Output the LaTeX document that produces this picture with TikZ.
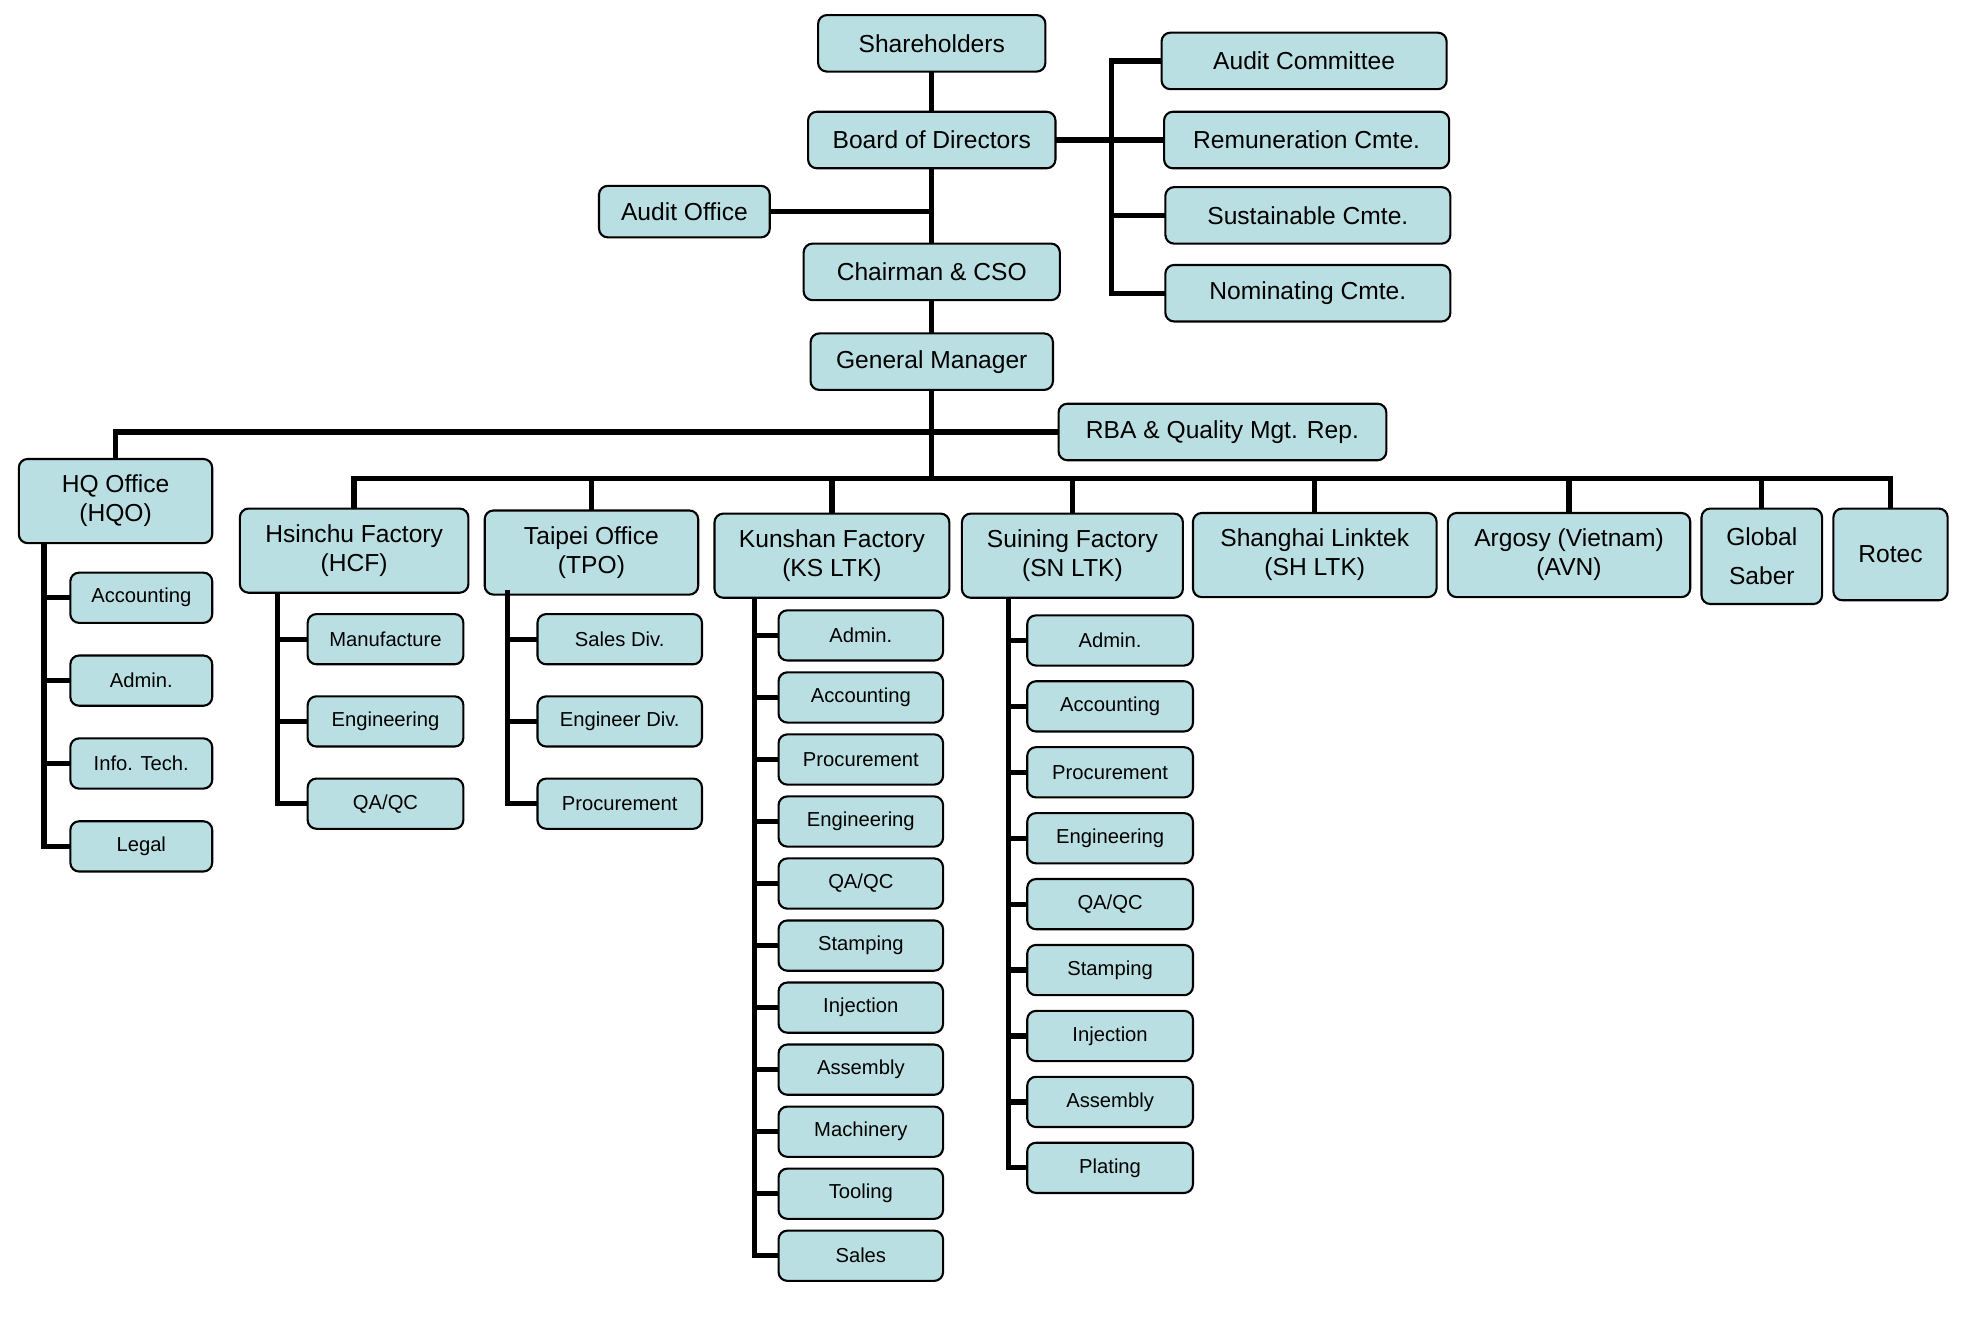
\documentclass[tikz,border=0pt]{standalone}
\usepackage{fontspec}
\setmainfont{Liberation Sans}
\usetikzlibrary{positioning}
\definecolor{boxfill}{RGB}{186,223,226}
\newlength{\unitpx}
\setlength{\unitpx}{0.025114cm}

\begin{document}
\begin{tikzpicture}[x=\unitpx,y=\unitpx,
    box/.style={draw,line width=1.2pt,rounded corners=5pt,fill=boxfill,
                align=center,inner sep=0pt,outer sep=0pt},
    headbox/.style={box,minimum width=#1\unitpx,minimum height=45\unitpx,
                font=\fontsize{14}{16.5}\selectfont},
    unitbox/.style={box,minimum width=#1\unitpx,minimum height=67\unitpx,
                font=\fontsize{14}{16.5}\selectfont},
    subbox/.style={box,minimum width=#1\unitpx,minimum height=40\unitpx,
                font=\fontsize{11.5}{13}\selectfont},
    link/.style={line width=3pt}]
    \useasboundingbox (0,0) rectangle (1568,-1062);

    % governance
    \node[headbox=181] (sh)  at (742,-34.5)  {Shareholders};
    \node[headbox=197] (bod) at (742,-111.5) {Board of Directors};
    \node[headbox=136,minimum height=41\unitpx] (ao) at (545,-168.5) {Audit Office};
    \node[headbox=204] (cso) at (742,-216.5) {Chairman \& CSO};
    \node[headbox=193] (gm)  at (742,-288)   {General Manager};
    \node[headbox=261] (rba) at (973.5,-344) {RBA \& Quality Mgt. Rep.};
    \node[headbox=227] (ac)  at (1038.5,-48.5) {Audit Committee};
    \node[headbox=227] (rem) at (1040.5,-111.5) {Remuneration Cmte.};
    \node[headbox=227] (sus) at (1041.5,-171.5) {Sustainable Cmte.};
    \node[headbox=227] (nom) at (1041.5,-233.5) {Nominating Cmte.};
    \coordinate (csp) at (885,-48.5);
    \coordinate (bus) at (742,-381);

    % business units
    \node[unitbox=154] (hq)  at (92,-399)     {HQ Office\\(HQO)};
    \node[unitbox=182] (hcf) at (282,-438.5)  {Hsinchu Factory\\(HCF)};
    \node[unitbox=170] (tpo) at (471,-440)    {Taipei Office\\(TPO)};
    \node[unitbox=187] (ks)  at (662.5,-442.5) {Kunshan Factory\\(KS LTK)};
    \node[unitbox=176] (sn)  at (854,-442.5)  {Suining Factory\\(SN LTK)};
    \node[unitbox=194] (shl) at (1047,-442)   {Shanghai Linktek\\(SH LTK)};
    \node[unitbox=193] (avn) at (1249.5,-442) {Argosy (Vietnam)\\(AVN)};
    \node[unitbox=96,minimum height=76\unitpx] (gs) at (1403,-443) {Global\\[6pt]Saber};
    \node[unitbox=91,minimum height=73\unitpx] (rot) at (1505.5,-441.5) {Rotec};

    % HQ departments
    \node[subbox=113] (hq1) at (112.5,-476) {Accounting};
    \node[subbox=113,below=26 of hq1] (hq2) {Admin.};
    \node[subbox=113,below=26 of hq2] (hq3) {Info. Tech.};
    \node[subbox=113,below=26 of hq3] (hq4) {Legal};
    \coordinate (hqsp) at (35,-432);

    % HCF departments
    \node[subbox=124] (hcf1) at (307,-509) {Manufacture};
    \node[subbox=124,below=25.5 of hcf1] (hcf2) {Engineering};
    \node[subbox=124,below=25.5 of hcf2] (hcf3) {QA/QC};
    \coordinate (hcfsp) at (221,-472);

    % TPO departments
    \node[subbox=131] (tpo1) at (493.5,-509) {Sales Div.};
    \node[subbox=131,below=25.5 of tpo1] (tpo2) {Engineer Div.};
    \node[subbox=131,below=25.5 of tpo2] (tpo3) {Procurement};
    \coordinate (tposp) at (404,-470);

    % KS departments
    \node[subbox=131] (ks1) at (685.5,-506) {Admin.};
    \node[subbox=131,below=9.4 of ks1] (ks2) {Accounting};
    \node[subbox=131,below=9.4 of ks2] (ks3) {Procurement};
    \node[subbox=131,below=9.4 of ks3] (ks4) {Engineering};
    \node[subbox=131,below=9.4 of ks4] (ks5) {QA/QC};
    \node[subbox=131,below=9.4 of ks5] (ks6) {Stamping};
    \node[subbox=131,below=9.4 of ks6] (ks7) {Injection};
    \node[subbox=131,below=9.4 of ks7] (ks8) {Assembly};
    \node[subbox=131,below=9.4 of ks8] (ks9) {Machinery};
    \node[subbox=131,below=9.4 of ks9] (ks10) {Tooling};
    \node[subbox=131,below=9.4 of ks10] (ks11) {Sales};
    \coordinate (kssp) at (601,-476);

    % SN departments
    \node[subbox=132] (sn1) at (884,-510) {Admin.};
    \node[subbox=132,below=12.5 of sn1] (sn2) {Accounting};
    \node[subbox=132,below=12.5 of sn2] (sn3) {Procurement};
    \node[subbox=132,below=12.5 of sn3] (sn4) {Engineering};
    \node[subbox=132,below=12.5 of sn4] (sn5) {QA/QC};
    \node[subbox=132,below=12.5 of sn5] (sn6) {Stamping};
    \node[subbox=132,below=12.5 of sn6] (sn7) {Injection};
    \node[subbox=132,below=12.5 of sn7] (sn8) {Assembly};
    \node[subbox=132,below=12.5 of sn8] (sn9) {Plating};
    \coordinate (snsp) at (803,-476);

    % trunk and committees
    \draw[link] (sh) -- (bod);
    \draw[link] (bod) -- (cso);
    \draw[link] (cso) -- (gm);
    \draw[link] (gm) -- (bus);
    \draw[link] (ao) -- (ao -| bod);
    \draw[link] (bod) -- (rem);
    \draw[link] (ac) -- (csp) |- (nom);
    \draw[link] (sus) -- (sus -| csp);
    \draw[link] (hq.north) |- (rba);

    % bus to business units
    \draw[link] (hcf.north) |- (bus) -| (rot.north);
    \draw[link] (tpo.north) -- (tpo.north |- bus);
    \draw[link] (ks.north) -- (ks.north |- bus);
    \draw[link] (sn.north) -- (sn.north |- bus);
    \draw[link] (shl.north) -- (shl.north |- bus);
    \draw[link] (avn.north) -- (avn.north |- bus);
    \draw[link] (gs.north) -- (gs.north |- bus);

    % department spines
    \draw[link] (hqsp) |- (hq1);
    \draw[link] (hqsp) |- (hq2);
    \draw[link] (hqsp) |- (hq3);
    \draw[link] (hqsp) |- (hq4);
    \draw[link] (hcfsp) |- (hcf1);
    \draw[link] (hcfsp) |- (hcf2);
    \draw[link] (hcfsp) |- (hcf3);
    \draw[link] (tposp) |- (tpo1);
    \draw[link] (tposp) |- (tpo2);
    \draw[link] (tposp) |- (tpo3);
    \draw[link] (kssp) |- (ks1);
    \draw[link] (kssp) |- (ks2);
    \draw[link] (kssp) |- (ks3);
    \draw[link] (kssp) |- (ks4);
    \draw[link] (kssp) |- (ks5);
    \draw[link] (kssp) |- (ks6);
    \draw[link] (kssp) |- (ks7);
    \draw[link] (kssp) |- (ks8);
    \draw[link] (kssp) |- (ks9);
    \draw[link] (kssp) |- (ks10);
    \draw[link] (kssp) |- (ks11);
    \draw[link] (snsp) |- (sn1);
    \draw[link] (snsp) |- (sn2);
    \draw[link] (snsp) |- (sn3);
    \draw[link] (snsp) |- (sn4);
    \draw[link] (snsp) |- (sn5);
    \draw[link] (snsp) |- (sn6);
    \draw[link] (snsp) |- (sn7);
    \draw[link] (snsp) |- (sn8);
    \draw[link] (snsp) |- (sn9);
  \end{tikzpicture}
\end{document}
